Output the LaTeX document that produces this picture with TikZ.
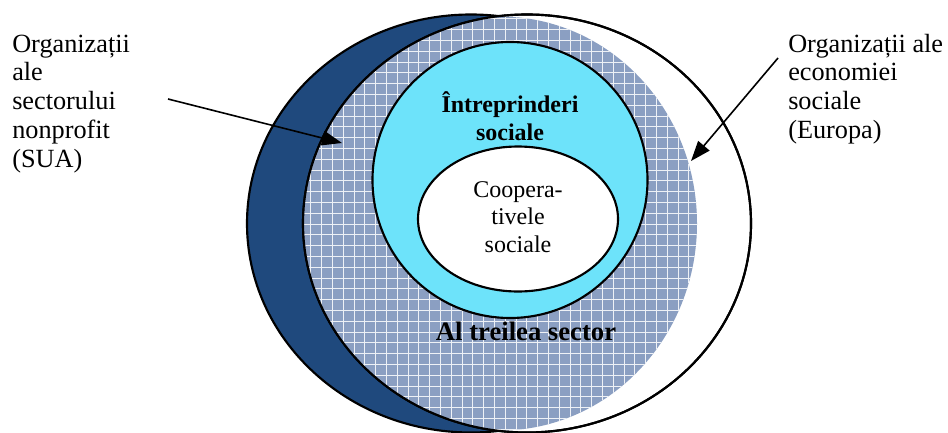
\documentclass[tikz,border=0pt]{standalone}
\usepackage{fontspec}
\setmainfont{Liberation Serif}
\usetikzlibrary{arrows.meta}
\definecolor{darkblue}{HTML}{1F497D}
\definecolor{hatchblue}{HTML}{8B9FC2}
\definecolor{cyanfill}{HTML}{6DE3FA}
\begin{document}
\begin{tikzpicture}[x=0.75pt,y=-0.75pt,
  outline/.style={draw=black, line width=1.6pt},
  gridline/.style={draw=white!85!hatchblue, line width=0.55pt},
  lbl/.style={inner sep=0pt, font=\fontsize{19.7}{21.6}\selectfont},
  inlbl/.style={inner sep=0pt, font=\fontsize{18}{20.7}\selectfont},
  pointer/.style={draw=black, line width=1.2pt, -{Triangle[length=15pt,width=11pt]}}]
\useasboundingbox (0,0) rectangle (948,432);
\fill[white] (0,0) rectangle (948,432);
% dark blue ellipse (nonprofit sector, USA)
\path[outline, fill=darkblue] (471,223.5) ellipse [x radius=224, y radius=209];
% white ellipse (social economy, Europe)
\path[outline, fill=white] (527,223.5) ellipse [x radius=224, y radius=209];
% hatched ellipse (third sector)
\begin{scope}
  \clip (527,223.5) ellipse [x radius=224, y radius=209];
  \clip (500,223.5) ellipse [x radius=197, y radius=207];
  \fill[hatchblue] (290,0) rectangle (710,432);
  \foreach \k in {0,...,39} {
    \path[gridline] ({300+10.8*\k},0) -- ({300+10.8*\k},432);
  }
  \foreach \k in {0,...,40} {
    \path[gridline] (290,{8+10.8*\k}) -- (710,{8+10.8*\k});
  }
\end{scope}
\path[outline] (527,223.5) ellipse [x radius=224, y radius=209];
% social enterprises
\path[outline, fill=cyanfill] (510,180) ellipse [x radius=137.5, y radius=138];
% social cooperatives
\path[outline, fill=white] (518,219) ellipse [x radius=100, y radius=72.5];
% texts
\node[inlbl, font=\fontsize{18}{21}\selectfont\bfseries, anchor=base] (intr) at (510,112)
  {\begin{tabular}[t]{@{}c@{}}Întreprinderi\\sociale\end{tabular}};
\node[inlbl, anchor=base] (coop) at (518,197)
  {\begin{tabular}[t]{@{}c@{}}Coopera-\\tivele\\sociale\end{tabular}};
\node[inner sep=0pt, font=\fontsize{20}{24}\selectfont\bfseries, anchor=base] (third) at (526,340)
  {Al treilea sector};
\node[lbl, anchor=base west] (usa) at (12,52)
  {\begin{tabular}[t]{@{}l@{}}Organizații\\ale\\sectorului\\nonprofit\\(SUA)\end{tabular}};
\node[lbl, anchor=base west] (eu) at (788,52)
  {\begin{tabular}[t]{@{}l@{}}Organizații ale\\economiei\\sociale\\(Europa)\end{tabular}};
% arrows
\coordinate (usaS) at (168,99);
\coordinate (usaE) at (342,143);
\coordinate (euS) at (778,58);
\coordinate (euE) at (691,161);
\draw[pointer] (usaS) -- (usaE);
\draw[pointer] (euS) -- (euE);
\end{tikzpicture}
\end{document}
